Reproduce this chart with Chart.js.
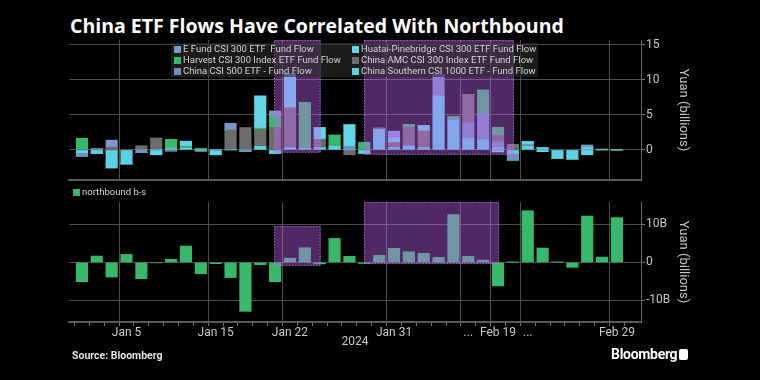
<!DOCTYPE html>
<html>
<head>
<meta charset="utf-8">
<script src="https://cdn.jsdelivr.net/npm/chart.js@4.4.1/dist/chart.umd.min.js"></script>
<style>
    html, body { margin: 0; padding: 0; background: #000; }
    #wrap { position: relative; width: 760px; height: 380px; overflow: hidden; font-family: Roboto, sans-serif; color: #c8c8c8; }
    #title { position: absolute; left: 70px; top: 12px; font: bold 19.5px "Open Sans", sans-serif; color: #fff; white-space: nowrap; }
    #topChart { position: absolute; left: 0; top: 0; }
    #botChart { position: absolute; left: 0; top: 182px; }
    .legend { position: absolute; font-size: 9.5px; line-height: 10.7px; white-space: pre; color: #d4d4d4; }
    #legendTop { left: 171px; top: 43px; width: 367px; height: 34px; background: rgba(45, 45, 45, 0.6);
                 display: grid; grid-template-columns: 178px 186px; padding: 1px 0 0 3px; box-sizing: border-box; }
    #legendBot { left: 73px; top: 187px; }
    .item { display: flex; align-items: center; }
    .sw { width: 7px; height: 7px; margin-right: 2px; flex: none; }
    #source { position: absolute; left: 72px; top: 349px; font: bold 10.5px Roboto, sans-serif; color: #e0e0e0; }
    #brand { position: absolute; left: 611px; top: 346px; font: bold 14px Roboto, sans-serif; color: #fff; letter-spacing: -0.3px; }
    #brandIcon { position: absolute; left: 679px; top: 349px; width: 9px; height: 11px; background: #fff; border-radius: 2px; }
</style>
</head>
<body>
<div id="wrap">
    <div id="title">China ETF Flows Have Correlated With Northbound</div>
    <canvas id="topChart" width="760" height="182"></canvas>
    <canvas id="botChart" width="760" height="170"></canvas>
    <div id="legendTop" class="legend"></div>
    <div id="legendBot" class="legend"></div>
    <div id="source">Source: Bloomberg</div>
    <div id="brand">Bloomberg</div>
    <div id="brandIcon"></div>
</div>
<script>
// --- Data (billion yuan, trading days Jan 2 - Feb 29 2024) ---
const dates = ['Jan 2','Jan 3','Jan 4','Jan 5','Jan 8','Jan 9','Jan 10','Jan 11','Jan 12','Jan 15',
    'Jan 16','Jan 17','Jan 18','Jan 19','Jan 22','Jan 23','Jan 24','Jan 25','Jan 26','Jan 29',
    'Jan 30','Jan 31','Feb 1','Feb 2','Feb 5','Feb 6','Feb 7','Feb 8','Feb 19','Feb 20',
    'Feb 21','Feb 22','Feb 23','Feb 26','Feb 27','Feb 28','Feb 29'];
const tickAt = [3, 9, 14, 21, 26, 28, 30, 36];
const tickText = ['Jan 5', 'Jan 15', 'Jan 22', 'Jan 31', '...', 'Feb 19', '...', 'Feb 29'];
const topTicks = [0, 5, 10, 15];
const botTicks = [-10, 0, 10];

const eFund = [0,0.2,1.0,0,0,0,0,0,0,0, 0.95,0,0,0.7,0,0,0,0,0,0, 0,0.95,0,0,0,0,0,0,0,0, 0,0,0,0,0.35,0,0];
const huatai = [0,0,-0.6,0,0,-0.7,0,0.7,-0.2,-0.7, 0,0,4.6,0,4.9,0,1.7,0,3.1,0, 0,0.7,0,0.8,0,0,0,0,-0.3,0, 0.5,-0.25,0,0,-0.7,0,0];
const harvest = [1.67,0,0,0,0,0,1.3,0.3,0.2,0, 0,0,0.2,1.67,0,6.6,0,1.6,0,1.1, 0,0,0.4,0,0,0.45,0,3.5,1.2,0, 0,0,0,0,0,0.1,0];
const chinaAmc = [0,0,0.4,0,0.6,1.67,0,0,0,0, 2.86,3.2,2.4,3.2,5.7,0,1.2,0,-0.7,0, 0.2,0.7,2.7,2.4,0,0,4.0,0,0.9,0.8, 0.15,0,0,0,0,0,0];
const csi500 = [-0.5,0,0,0,-0.4,0,-0.2,0,0,0, 0,-0.2,0,0,0,0,0,0,0.5,0, 0,0,0,0,3.1,0,2.3,3.6,0.8,-0.95, 0,0,0,0,0,0,0];
const southern = [-0.4,-0.5,-2.0,-2.0,0,0,0.2,0.24,0,0, 0,0,0.5,-0.5,0.3,0.2,0.3,0.5,0,-0.5, 2.9,0.33,0.55,0.3,7.7,4.3,1.6,1.43,0.33,-0.5, 0.55,0.3,-1.2,-1.3,0.35,0,0];
const northbound = [-5.1,1.67,-3.86,2.1,-4.3,-0.1,0.8,4.3,-3.0,-0.35, -4.0,-12.9,-0.6,-5.1,1.1,3.86,-0.4,6.3,1.6,-0.3,
    1.85,3.7,2.8,2.4,1.3,12.6,1.6,0.6,-6.2,0.05, 13.6,3.77,0.05,-1.3,12.2,1.4,11.8];

// highlighted periods, in day index / value units (hi missing = top of plot)
const topBoxes = [{ from: 12.95, to: 16.08, lo: -0.4 }, { from: 18.98, to: 29.07, lo: -0.7 }];
const botBoxes = [{ from: 12.95, to: 16.08, lo: -0.9, hi: 9.6 }, { from: 18.98, to: 28.07, lo: -0.45 }];

// stacked bottom -> top, legend shows the reverse order
const flowSeries = [
    { label: 'China Southern CSI 1000 ETF - Fund Flow', data: southern, color: '#58d3e3' },
    { label: 'China CSI 500 ETF - Fund Flow', data: csi500, color: '#7190c0' },
    { label: 'China AMC CSI 300 Index ETF Fund Flow', data: chinaAmc, color: '#6c6c6c' },
    { label: 'Harvest CSI 300 Index ETF Fund Flow', data: harvest, color: '#37b86b' },
    { label: 'Huatai-Pinebridge CSI 300 ETF Fund Flow', data: huatai, color: '#62d6e8' },
    { label: 'E Fund CSI 300 ETF  Fund Flow', data: eFund, color: '#7d98c9' }
];
const nbColor = '#37b86b';

const TEXT = '#c8c8c8';
const GRID = '#4e4e4e';

const boxPlugin = {
    id: 'boxes',
    afterDatasetsDraw(chart, args, opts) {
        const { ctx, chartArea, scales: { x, y } } = chart;
        opts.list.forEach(b => {
            const left = x.getPixelForValue(b.from);
            const right = x.getPixelForValue(b.to);
            const top = b.hi == null ? chartArea.top : y.getPixelForValue(b.hi);
            const bottom = y.getPixelForValue(b.lo);
            ctx.save();
            ctx.fillStyle = 'rgba(200, 100, 250, 0.4)';
            ctx.fillRect(left, top, right - left, bottom - top);
            ctx.setLineDash([1, 2]);
            ctx.strokeStyle = '#b57fdc';
            ctx.lineWidth = 1;
            ctx.strokeRect(Math.round(left) + 0.5, Math.round(top) + 0.5, right - left - 1, bottom - top - 1);
            ctx.restore();
        });
    }
};

function xAxis(showLabels) {
    return {
        type: 'linear',
        min: -0.35,
        max: 37.1,
        stacked: true,
        afterBuildTicks: scale => { scale.ticks = dates.map((d, i) => ({ value: i })); },
        afterFit: scale => { scale.height = showLabels ? 30 : 0; },
        ticks: {
            display: showLabels,
            autoSkip: false,
            maxRotation: 0,
            padding: 0,
            color: TEXT,
            font: { family: 'Roboto', size: 12 },
            callback: v => { const k = tickAt.indexOf(v); return k >= 0 ? tickText[k] : ''; }
        },
        grid: {
            color: ctx => (ctx.tick && tickAt.includes(ctx.tick.value)) ? GRID : 'rgba(0,0,0,0)',
            borderDash: [1, 2],
            drawTicks: showLabels,
            tickLength: 4,
            tickColor: '#777',
            tickBorderDash: []
        },
        border: { display: true, color: '#595959', width: 2 },
        title: showLabels ? { display: true, text: '2024', color: TEXT, font: { family: 'Roboto', size: 12 }, padding: { top: 0, bottom: 3 } } : { display: false }
    };
}

function yAxis(min, max, values, fmt) {
    return {
        position: 'right',
        min: min,
        max: max,
        stacked: true,
        afterBuildTicks: scale => { scale.ticks = values.map(v => ({ value: v })); },
        afterFit: scale => {
            scale.width = 54;
            // tick labels are not at the ends, so no extra room needed
            scale.paddingTop = 0;
            scale.paddingBottom = 0;
        },
        ticks: { padding: 1, color: TEXT, font: { family: 'Roboto', size: 12 }, callback: fmt },
        grid: { color: GRID, borderDash: [1, 2], tickLength: 4, tickColor: '#777', tickBorderDash: [] },
        border: { display: true, color: '#666', width: 1 },
        title: { display: true, text: 'Yuan (billions)', color: TEXT, font: { family: 'Roboto', size: 13 }, padding: { top: 4, bottom: 0 } }
    };
}

const common = {
    responsive: false,
    animation: false,
    events: [],
    plugins: { legend: { display: false }, tooltip: { enabled: false } }
};

// Top: ETF fund flows
new Chart(document.getElementById('topChart'), {
    type: 'bar',
    data: {
        datasets: flowSeries.map(s => ({
            label: s.label,
            data: s.data.map((v, i) => ({ x: i, y: v })),
            backgroundColor: s.color,
            borderWidth: 0,
            barThickness: 11.5
        }))
    },
    options: {
        ...common,
        layout: { padding: { left: 69, right: 65, top: 40, bottom: 2 } },
        scales: { x: xAxis(false), y: yAxis(-4.3, 15.7, topTicks, v => String(v)) },
        plugins: { ...common.plugins, boxes: { list: topBoxes } }
    },
    plugins: [boxPlugin]
});

// Bottom: northbound buy-sell
new Chart(document.getElementById('botChart'), {
    type: 'bar',
    data: {
        datasets: [{
            label: 'northbound b-s',
            data: northbound.map((v, i) => ({ x: i, y: v })),
            backgroundColor: nbColor,
            borderWidth: 0,
            barThickness: 11.5
        }]
    },
    options: {
        ...common,
        layout: { padding: { left: 69, right: 65, top: 20, bottom: 0 } },
        scales: { x: xAxis(true), y: yAxis(-15.7, 15.9, botTicks, v => v === 0 ? '0' : v + 'B') },
        plugins: { ...common.plugins, boxes: { list: botBoxes } }
    },
    plugins: [boxPlugin]
});

// HTML legends
function legendItem(label, color) {
    return `<div class="item"><span class="sw" style="background:${color}"></span>${label}</div>`;
}
const legendOrder = flowSeries.slice().reverse();
const rows = [];
for (let r = 0; r < 3; r++) {
    rows.push(legendItem(legendOrder[r * 2].label, legendOrder[r * 2].color));
    rows.push(legendItem(legendOrder[r * 2 + 1].label, legendOrder[r * 2 + 1].color));
}
document.getElementById('legendTop').innerHTML = rows.join('');
document.getElementById('legendBot').innerHTML = legendItem('northbound b-s', nbColor);
</script>
</body>
</html>
